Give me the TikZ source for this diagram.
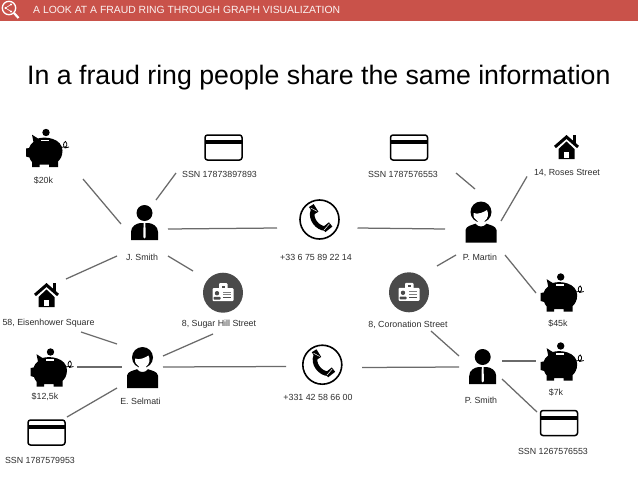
\documentclass[tikz,border=0pt]{standalone}
\usepackage{fontspec}
\setmainfont{Liberation Sans}
\definecolor{banner}{HTML}{C9524A}
\definecolor{linkgray}{HTML}{6A6A6A}
\definecolor{labelgray}{HTML}{2E2E2E}
\definecolor{badgegray}{HTML}{4A4A4A}
\tikzset{
  link/.style={draw=linkgray,line width=1.25pt},
  lab/.style={inner sep=0pt,text=labelgray,font=\fontsize{8.85}{10}\selectfont},
  piggy/.pic={
    \fill (0,0) circle (3.7);
    \fill (-14,2.2) -- (-8,6) .. controls (0,3.5) and (16,6) .. (16.5,18)
      .. controls (16.5,24) and (14,27) .. (12,29) -- (12,34.5) -- (3,34.5) -- (3,32) -- (-6.5,32)
      -- (-6.5,34.5) -- (-14,34.5) -- (-14,29.5) .. controls (-15.5,28) and (-16,26.5) .. (-16.5,25)
      -- (-20,24) -- (-20,16) -- (-17,15.5) .. controls (-16,13) and (-15,11) .. (-12.5,9.5) -- cycle;
    \fill[white] (-5,7.3) rectangle (3,8.6);
    \draw[line width=.8pt] (15,15) -- (18,14.5) .. controls (21,15.5) and (22,11) .. (19.5,9)
      .. controls (17,10) and (17,14) .. (19,15.5) -- (23,14.5);
  },
  cardicon/.pic={
    \draw[line width=1.5pt,rounded corners=2.5pt] (-18.5,-12.5) rectangle (18.5,12.5);
    \fill (-18.5,-7.5) rectangle (18.5,-3.5);
  },
  houseicon/.pic={
    \fill (6.5,-12) rectangle (9.5,-3);
    \draw[line width=3pt] (-11.5,0) -- (0,-10) -- (11.5,0);
    \fill (-8,2) -- (0,-5.5) -- (8,2) -- (8,12) -- (-8,12) -- cycle;
    \fill[white] (-2.7,4.5) rectangle (2.9,11);
  },
  badgeicon/.pic={
    \fill[badgegray] (0,0) circle (20);
    \fill[white,rounded corners=1pt] (-10.5,-4.5) rectangle (10.5,8.5);
    \fill[white,rounded corners=1pt] (-4,-9.5) rectangle (4.5,-3);
    \fill[badgegray] (-1.5,-7) rectangle (2,-5);
    \fill[badgegray] (-6,0.5) circle (2.2);
    \fill[badgegray,rounded corners=.8pt] (-9.5,7) -- (-9.5,4.2) -- (-2.5,4.2) -- (-2.5,7) -- cycle;
    \draw[gray,line width=.7pt] (0,-.5) -- (8,-.5) (0,2) -- (8,2);
    \draw[badgegray,line width=.9pt] (0,4.8) -- (8,4.8);
  },
  phoneicon/.pic={
    \draw[line width=1.6pt] (0,0) circle (19.5);
    \draw[line width=4.6pt] (-6.5,-9) .. controls (-10,-1) and (-2,9) .. (6,9);
    \fill[rotate around={32:(-6,-10)}] (-8.5,-14.5) rectangle (-3,-5.5);
    \fill[rotate around={-52:(7.5,7.5)}] (5,3) rectangle (10.5,12);
    \draw[white,line width=.5pt] (-8.8,-11.5) -- (-2.5,-8.2) (4.6,10.5) -- (10,4.2);
  },
  manicon/.pic={
    \fill (0,0) circle (8);
    \fill (-13.5,27) -- (-13.5,19) .. controls (-13.5,13) and (-8,10.5) .. (-4,10) -- (4,10)
      .. controls (8,10.5) and (13.5,13) .. (13.5,19) -- (13.5,27) -- cycle;
    \fill[white] (-.9,10) -- (.9,10) -- (1.2,24) -- (0,25.5) -- (-1.2,24) -- cycle;
  },
  womanicon/.pic={
    \fill (0,0) circle (10.5);
    \fill[white] (-7.5,1) .. controls (-3,3) and (3,0) .. (6,-2) .. controls (8,2) and (7,7) .. (3.5,9)
      -- (3.5,14) -- (-3.5,14) -- (-3.5,9) .. controls (-6,8) and (-8,5) .. (-7.5,1) -- cycle;
    \fill (-15.5,30.5) -- (-15.5,18) .. controls (-15,14) and (-9,13) .. (-5.5,11.7)
      .. controls (-3,15.5) and (3,15.5) .. (5.5,11.7) .. controls (9,13) and (15,14) .. (15.5,18)
      -- (15.5,30.5) -- cycle;
  },
}
\begin{document}
\begin{tikzpicture}[x=1pt,y=-1pt]
\useasboundingbox (0,0) rectangle (638,479);
\fill[white] (0,0) rectangle (638,479);
% banner
\fill[banner] (0,0) rectangle (638,20.5);
\draw[white,line width=1.3pt] (9,8) circle (6.7);
\draw[white,line width=2.2pt] (14,13) -- (18.5,18);
\fill[white] (11,4.5) circle (1.1) (5.5,8) circle (1.1) (11,11.5) circle (1.1);
\draw[white,line width=.6pt] (11,4.5) -- (5.5,8) -- (11,11.5);
\node[anchor=west,inner sep=0pt,text=white!93!banner,font=\fontsize{10.4}{12}\selectfont] (header) at (33,10) {A LOOK AT A FRAUD RING THROUGH GRAPH VISUALIZATION};
\node[anchor=west,inner sep=0pt,text=black,font=\fontsize{26.7}{30}\selectfont] (title) at (27,78) {In a fraud ring people share the same information};
% icons
\pic at (46,132.5) {piggy};
\pic at (50.5,352) {piggy};
\pic at (560.7,277) {piggy};
\pic at (560.7,346) {piggy};
\pic at (223.5,147.5) {cardicon};
\pic at (409,147.5) {cardicon};
\pic at (46.5,432.5) {cardicon};
\pic at (559,423) {cardicon};
\pic at (46.5,295) {houseicon};
\pic at (566.5,147) {houseicon};
\pic at (223,292.7) {badgeicon};
\pic at (409,292.3) {badgeicon};
\pic at (319.5,219.5) {phoneicon};
\pic at (322.3,364.7) {phoneicon};
\pic at (144.5,213) {manicon};
\pic at (482.7,357) {manicon};
\pic at (142.5,357.5) {womanicon};
\pic at (481,212) {womanicon};
% labels
\node[lab] (l20k) at (43.5,180.5) {\$20k};
\node[lab] (lssna) at (219.5,174.5) {SSN 17873897893};
\node[lab] (ljs) at (142,257.5) {J. Smith};
\node[lab] (lpa) at (316,257) {+33 6 75 89 22 14};
\node[lab] (lssnb) at (403,174.5) {SSN 1787576553};
\node[lab] (lpm) at (480,257) {P. Martin};
\node[lab] (lroses) at (567,172.5) {14, Roses Street};
\node[lab] (l45k) at (558,324) {\$45k};
\node[lab] (lcor) at (408,325) {8, Coronation Street};
\node[lab] (lsug) at (219,324.5) {8, Sugar Hill Street};
\node[lab] (leis) at (48.5,323) {58, Eisenhower Square};
\node[lab] (l12k) at (45,397) {\$12,5k};
\node[lab] (les) at (140.5,401) {E. Selmati};
\node[lab] (lpb) at (318,397) {+331 42 58 66 00};
\node[lab] (lps) at (481,400.5) {P. Smith};
\node[lab] (l7k) at (556,393) {\$7k};
\node[lab] (lssnc) at (553,451) {SSN 1267576553};
\node[lab] (lssnd) at (40,460) {SSN 1787579953};
% connector ends
\coordinate (a1) at (83,179);   \coordinate (b1) at (121,224);
\coordinate (a2) at (176,173);  \coordinate (b2) at (156,200);
\coordinate (a3) at (168,229);  \coordinate (b3) at (277,228);
\coordinate (a4) at (117,256);  \coordinate (b4) at (66,279);
\coordinate (a5) at (168,256);  \coordinate (b5) at (193,271);
\coordinate (a6) at (81,332);   \coordinate (b6) at (117,344);
\coordinate (a7) at (213,334);  \coordinate (b7) at (163,356);
\coordinate (a8) at (77,367);   \coordinate (b8) at (122,367);
\coordinate (a9) at (163,367);  \coordinate (b9) at (286,366.5);
\coordinate (a10) at (67,417);  \coordinate (b10) at (117,388);
\coordinate (a11) at (456,173); \coordinate (b11) at (475,189);
\coordinate (a12) at (527,176.5); \coordinate (b12) at (501,221);
\coordinate (a13) at (357.5,228); \coordinate (b13) at (445,229);
\coordinate (a14) at (437,266); \coordinate (b14) at (456,255);
\coordinate (a15) at (505,255); \coordinate (b15) at (536,293);
\coordinate (a16) at (431,331); \coordinate (b16) at (459,356);
\coordinate (a17) at (362,367.5); \coordinate (b17) at (459,367);
\coordinate (a18) at (502,361); \coordinate (b18) at (536,361);
\coordinate (a19) at (502,379); \coordinate (b19) at (537,412);
\foreach \n in {1,...,19} \draw[link] (a\n) -- (b\n);
\end{tikzpicture}
\end{document}
